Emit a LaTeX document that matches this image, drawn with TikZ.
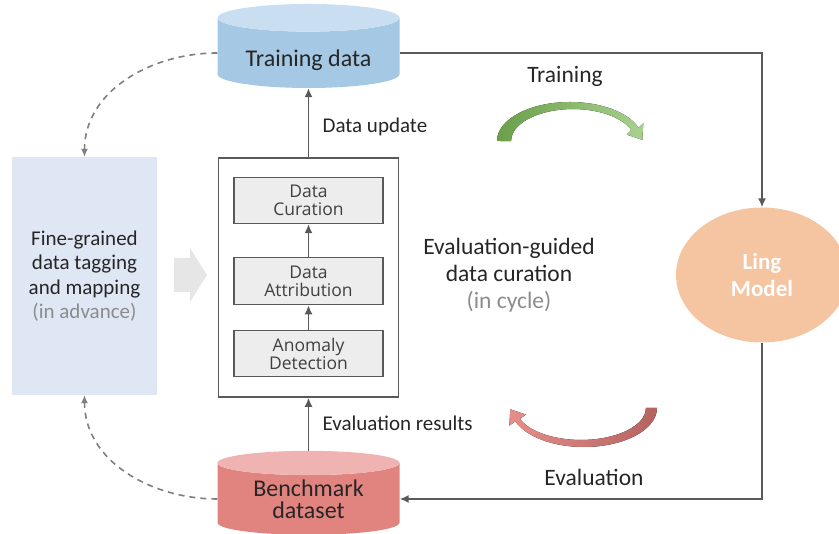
\documentclass[tikz,border=0pt]{standalone}
\usepackage{fontspec}
\setmainfont{Carlito}
\newfontfamily\boxfont{Open Sans}
\usepackage{tikz}
\usepackage{xcolor}
\usetikzlibrary{shapes.geometric, arrows.meta, positioning, calc}

\definecolor{linegray}{HTML}{595959}
\definecolor{dashgray}{HTML}{7F7F7F}
\definecolor{darktext}{HTML}{262626}
\definecolor{boxtext}{HTML}{404040}
\definecolor{softgray}{HTML}{8C8C8C}
\definecolor{stagegray}{HTML}{EDEDED}
\definecolor{arrowgray}{HTML}{E6E6E6}
\definecolor{tagblue}{HTML}{DFE7F5}
\definecolor{trainblue}{HTML}{A5C8E4}
\definecolor{trainbluetop}{HTML}{C9DEF0}
\definecolor{benchred}{HTML}{E1837E}
\definecolor{benchredtop}{HTML}{EFB4B1}
\definecolor{modelorange}{HTML}{F5C4A0}
\definecolor{greendark}{HTML}{6A9F4A}
\definecolor{greenlight}{HTML}{A9D18E}
\definecolor{redlight}{HTML}{E58E8A}
\definecolor{reddark}{HTML}{B5635F}

\begin{document}
\begin{tikzpicture}[x=1pt, y=1pt,
  conn/.style={-{Latex[length=9pt,width=8pt]}, draw=linegray, line width=1.6pt},
  dashconn/.style={-{Latex[length=8pt,width=7pt]}, draw=dashgray, line width=1.6pt, dash pattern=on 6pt off 5pt},
  stage/.style={draw=linegray, line width=1.2pt, fill=stagegray, minimum width=149pt, minimum height=46pt, align=center, inner sep=0pt, text=boxtext, font=\boxfont\fontsize{17.5}{18}\selectfont},
  db/.style={cylinder, shape border rotate=90, aspect=0.22, minimum width=182pt, minimum height=84pt, cylinder uses custom fill, align=center, inner sep=0pt, text=darktext},
  lbl/.style={text=darktext, font=\fontsize{21}{24}\selectfont}
]
\useasboundingbox (0,0) rectangle (839,534);

% Data stores
\node[db, cylinder body fill=trainblue, cylinder end fill=trainbluetop, text height=28pt, text depth=0pt, font=\fontsize{24}{26}\selectfont] (train) at (308.5,481) {Training data};
\node[db, cylinder body fill=benchred, cylinder end fill=benchredtop, font=\fontsize{24}{22}\selectfont] (bench) at (308.5,35) {Benchmark\\dataset};

% Curation loop
\node[draw=linegray, line width=1.6pt, minimum width=180pt, minimum height=239pt] (curbox) at (308.5,256.5) {};
\node[stage] (cur) at (308.5,333.5) {Data\\Curation};
\node[stage, below=33pt of cur, minimum height=47pt] (attr) {Data\\Attribution};
\node[stage, below=25pt of attr] (anom) {Anomaly\\Detection};
\draw[conn] (anom) -- (attr);
\draw[conn] (attr) -- (cur);

% Tagging
\node[fill=tagblue, minimum width=145pt, minimum height=238pt, align=center, text=darktext, font=\fontsize{21}{24.5}\selectfont] (tag) at (84.5,258) {Fine-grained\\data tagging\\and mapping\\\textcolor{softgray}{(in advance)}};
\fill[arrowgray] (174,276) -- (190,276) -- (190,286) -- (207,259) -- (190,232) -- (190,242) -- (174,242) -- cycle;

% Model
\node[ellipse, fill=modelorange, minimum width=172pt, minimum height=135pt, inner sep=0pt, align=center, text=white, font=\bfseries\fontsize{23}{27}\selectfont] (model) at (762,259) {Ling\\Model};

% Connectors
\draw[conn] (curbox.north) -- node[right, xshift=10pt, yshift=-4pt, lbl] {Data update} (train.south);
\draw[conn] (bench.north) -- node[right, xshift=10pt, yshift=1pt, lbl] {Evaluation results} (curbox.south);
\draw[conn] (train.east) -| (model.north);
\draw[conn] (model.south) |- (bench.east);
\draw[dashconn] (train.west) to[out=180, in=90] (tag.north);
\draw[dashconn] (bench.west) to[out=180, in=-90] (tag.south);

% Cycle arrows
\fill[left color=greendark, right color=greenlight] (497,393) arc[start angle=180, end angle=20, x radius=73, y radius=39] -- (643.3,410.6) -- (642.3,394.2) -- (626.7,399.4) -- (631.3,403.9) arc[start angle=20, end angle=180, x radius=62, y radius=32] -- cycle;
\fill[left color=redlight, right color=reddark] (657,126) arc[start angle=0, end angle=-160, x radius=73, y radius=39] -- (509.3,108.3) -- (510.3,124.7) -- (525.9,119.5) -- (519.9,115.1) arc[start angle=-160, end angle=0, x radius=65, y radius=32] -- cycle;
\node[text=darktext, font=\fontsize{23.5}{27}\selectfont] (trainlbl) at (565,458) {Training};
\node[text=darktext, font=\fontsize{23.5}{27}\selectfont] (evallbl) at (594,57) {Evaluation};

% Loop caption
\node[align=center, text=darktext, font=\fontsize{23.5}{27}\selectfont] (loop) at (509,259) {Evaluation-guided\\data curation\\\textcolor{softgray}{(in cycle)}};
\end{tikzpicture}
\end{document}
